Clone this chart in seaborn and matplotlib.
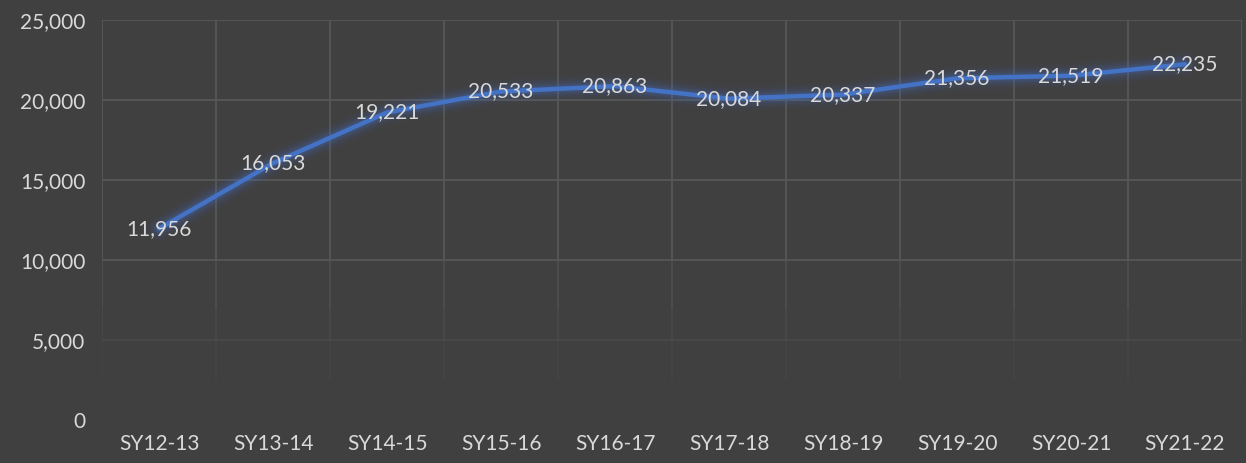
import matplotlib
matplotlib.use("Agg")
import matplotlib.pyplot as plt
import seaborn as sns
import numpy as np
import pandas as pd

categories = ["SY12-13", "SY13-14", "SY14-15", "SY15-16", "SY16-17",
              "SY17-18", "SY18-19", "SY19-20", "SY20-21", "SY21-22"]
values = [11956, 16053, 19221, 20533, 20863, 20084, 20337, 21356, 21519, 22235]
y_ticks = [0, 5000, 10000, 15000, 20000, 25000]

BG = "#404040"
GRID = "#595959"
TXT = "#d9d9d9"
LINE = "#4472C4"

sns.set_theme(style="dark")
plt.rcParams["font.family"] = ["Lato", "DejaVu Sans"]

fig = plt.figure(figsize=(12.46, 4.63), dpi=100, facecolor=BG)
ax = fig.add_axes([0.0819, 0.0929, 0.9149, 0.8639])
ax.set_facecolor(BG)

df = pd.DataFrame({"cat": categories, "val": values})
x = np.arange(len(categories))

# grid lines (fading toward bottom)
ax.set_xlim(-0.5, len(categories) - 0.5)
ax.set_ylim(0, 25000)
for yt in y_ticks:
    a = 1.0 if yt >= 10000 else (0.35 if yt == 5000 else 0.0)
    if a > 0:
        ax.axhline(yt, color=GRID, lw=1.2, alpha=a, zorder=0)
for b in np.arange(-0.5, len(categories), 1.0):
    segs = [(25000, 10000, 1.0), (10000, 7000, 0.6), (7000, 5000, 0.35), (5000, 2500, 0.15)]
    for top, bot, a in segs:
        ax.plot([b, b], [bot, top], color=GRID, lw=1.2, alpha=a, zorder=0,
                solid_capstyle="butt")

# glow
for w, a in [(18, 0.04), (14, 0.06), (11, 0.08), (8, 0.11), (6, 0.14)]:
    ax.plot(x, values, color=LINE, lw=w, alpha=a, solid_capstyle="round", zorder=1)

sns.lineplot(data=df, x="cat", y="val", sort=False, color=LINE, linewidth=3.2,
             ax=ax, zorder=2)

for xi, v in zip(x, values):
    ax.text(xi, v, f"{v:,}", ha="center", va="center", color=TXT, fontsize=15, zorder=3)

ax.set_xlim(-0.5, len(categories) - 0.5)
ax.set_ylim(0, 25000)
ax.set_yticks(y_ticks)
ax.set_yticklabels([f"{t:,}" for t in y_ticks])
ax.set_xticks(x)
ax.set_xticklabels(categories)
ax.tick_params(axis="y", colors=TXT, labelsize=15, pad=12, length=0)
ax.tick_params(axis="x", colors=TXT, labelsize=15, pad=10, length=0)
ax.set_xlabel("")
ax.set_ylabel("")
ax.grid(False)
for s in ax.spines.values():
    s.set_visible(False)

fig.savefig("out.png", dpi=100, facecolor=BG)
